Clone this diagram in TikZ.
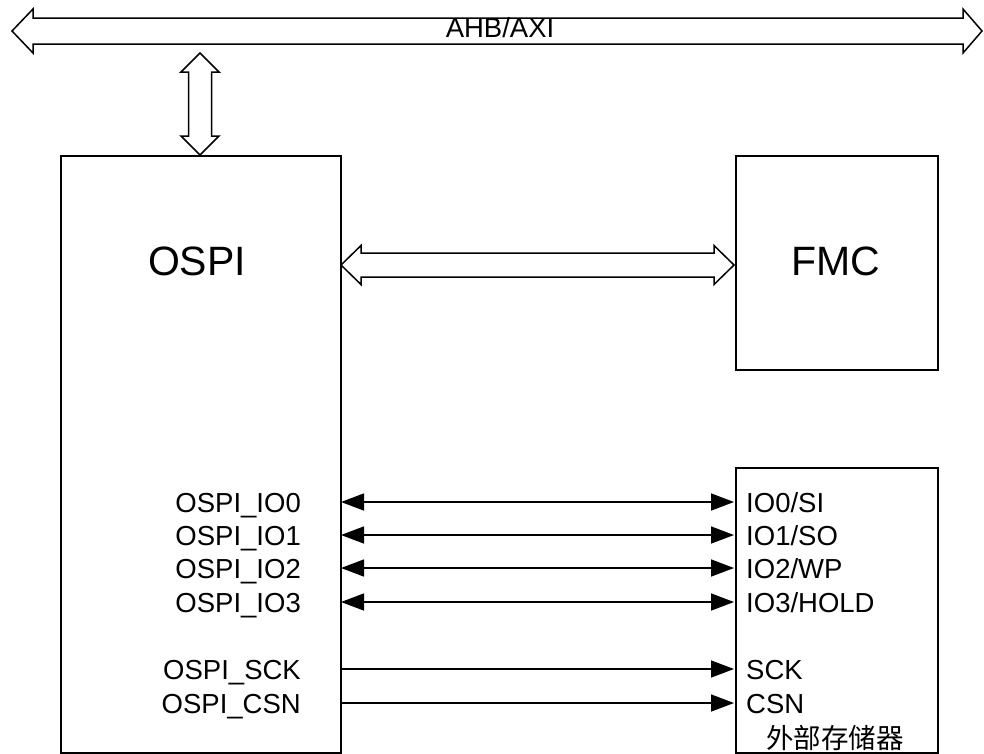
\documentclass[tikz,border=0pt]{standalone}
\usepackage{fontspec}
\setmainfont{Liberation Sans}
\newfontfamily\cjk{Noto Sans CJK SC}
\usetikzlibrary{arrows.meta}
\begin{document}
\begin{tikzpicture}[x=1pt,y=1pt,
  box/.style={draw, line width=1.5pt, inner sep=0pt, anchor=north west},
  blockarrow/.style={draw, line width=1.5pt, line join=miter, fill=white},
  sig/.style={line width=1.5pt},
  bidir/.style={sig, {Triangle[length=23pt,width=17pt]}-{Triangle[length=23pt,width=17pt]}, shorten <=1pt, shorten >=1pt},
  unidir/.style={sig, -{Triangle[length=23pt,width=17pt]}, shorten >=1pt},
  lbl/.style={font=\fontsize{27.5}{29}\selectfont, inner sep=0pt},
  big/.style={font=\fontsize{41}{44}\selectfont, inner sep=0pt}]
\useasboundingbox (0,0) rectangle (984,-753);

% boxes
\node[box, minimum width=280pt, minimum height=597pt] (ospi) at (60,-155) {};
\node[box, minimum width=202pt, minimum height=214pt] (fmc) at (735,-155) {};
\node[box, minimum width=202pt, minimum height=285pt] (mem) at (735,-467) {};

\node[big, anchor=base] (ospit) at (197,-275) {OSPI};
\node[big, anchor=base] (fmct) at (836,-275) {FMC};
\node[lbl, anchor=center] (memt) at (835,-738) {\cjk 外部存储器};

% AHB/AXI bus
\draw[blockarrow] (12,-31) -- (33,-9) -- (33,-18) -- (963,-18) -- (963,-9) -- (982,-31)
  -- (963,-53) -- (963,-44) -- (33,-44) -- (33,-53) -- cycle;
\node[lbl, anchor=base] (bus) at (500,-37.5) {AHB/AXI};

% bus <-> OSPI
\draw[blockarrow] (200,-53) -- (219,-72) -- (211.5,-72) -- (211.5,-136) -- (219,-136) -- (200,-155)
  -- (181,-136) -- (188.5,-136) -- (188.5,-72) -- (181,-72) -- cycle;

% OSPI <-> FMC
\draw[blockarrow] (341,-265) -- (361,-245.5) -- (361,-253) -- (714,-253) -- (714,-245.5) -- (734,-265)
  -- (714,-284.5) -- (714,-277) -- (361,-277) -- (361,-284.5) -- cycle;

% signal labels
\foreach \n/\a/\b/\y in {io0/{OSPI\_IO0}/{IO0/SI}/502, io1/{OSPI\_IO1}/{IO1/SO}/535,
  io2/{OSPI\_IO2}/{IO2/WP}/568, io3/{OSPI\_IO3}/{IO3/HOLD}/602,
  sck/{OSPI\_SCK}/{SCK}/669, csn/{OSPI\_CSN}/{CSN}/703}{
  \node[lbl, anchor=base east] (l\n) at (301,-\y-10) {\a};
  \node[lbl, anchor=base west] (r\n) at (746,-\y-10) {\b};
  \coordinate (s\n) at (340,-\y);
  \coordinate (e\n) at (735,-\y);
}
\foreach \n in {io0,io1,io2,io3}{\draw[bidir] (s\n) -- (e\n);}
\foreach \n in {sck,csn}{\draw[unidir] (s\n) -- (e\n);}
\end{tikzpicture}
\end{document}
